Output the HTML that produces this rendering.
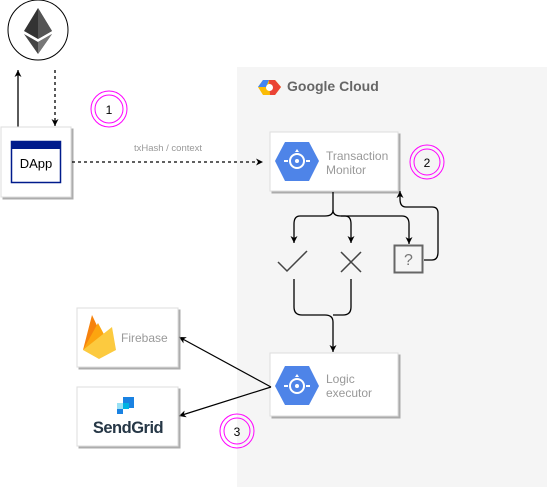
<!DOCTYPE html>
<html><head><style>body{margin:0;background:#fff}svg{display:block;font-family:"Liberation Sans",sans-serif}</style></head>
<body>
<svg width="548" height="488" viewBox="0 0 548 488">
<defs>
<marker id="a" markerWidth="8" markerHeight="8" refX="7" refY="4" orient="auto" markerUnits="userSpaceOnUse"><path d="M0,0.5 L7,4 L0,7.5 L2,4 Z" fill="#000"/></marker>
<filter id="s" x="-10%" y="-10%" width="130%" height="130%"><feDropShadow dx="2" dy="2" stdDeviation="0.3" flood-color="#999" flood-opacity="0.8"/></filter>
</defs>
<rect x="237" y="67" width="310" height="420" fill="#f5f5f5"/>
<!-- ethereum -->
<circle cx="38" cy="30" r="30" fill="#fff" stroke="#000"/>
<polygon points="38,8 24,31 38,39 52,31" fill="#333"/>
<polygon points="38,8 38,39 52,31" fill="#555"/>
<polygon points="24,34 38,54 52,34 38,42" fill="#444"/>
<polygon points="38,42 38,54 52,34" fill="#777"/>
<line x1="18" y1="127" x2="18" y2="70" stroke="#000" stroke-width="1.3" marker-end="url(#a)"/>
<line x1="55" y1="70" x2="55" y2="126" stroke="#000" stroke-width="1.3" stroke-dasharray="3,3" marker-end="url(#a)"/>
<!-- dapp -->
<rect x="1" y="127" width="70" height="70" fill="#fff" stroke="#ddd" filter="url(#s)"/>
<rect x="11.5" y="141.5" width="49" height="41" fill="#fff" stroke="#001b8c" stroke-width="1.5"/>
<rect x="11" y="141" width="50" height="8" fill="#001b8c"/>
<text x="36" y="168" font-size="13" text-anchor="middle">DApp</text>
<g fill="none" stroke="#f0f"><circle cx="109" cy="109" r="18"/><circle cx="109" cy="109" r="14"/></g>
<text x="109" y="114" font-size="12" text-anchor="middle">1</text>
<line x1="72" y1="162" x2="263" y2="162" stroke="#000" stroke-width="1.2" stroke-dasharray="3,3" marker-end="url(#a)"/>
<text x="168" y="151" font-size="9.5" fill="#999" text-anchor="middle">txHash / context</text>
<!-- google cloud -->
<polygon points="263,80 275,80 281,87 275,95 263,95 258,87" fill="#fbbc05"/>
<polygon points="269,80 275,80 281,87 275,95 270,95" fill="#ea4335"/>
<polygon points="263,80 269,80 266,87 258,87" fill="#4285f4"/>
<circle cx="269.5" cy="87.5" r="3.5" fill="#fff"/>
<text x="287" y="91" font-size="14" font-weight="bold" fill="#666">Google Cloud</text>
<!-- transaction monitor -->
<rect x="270" y="132" width="128" height="59" fill="#fff" stroke="#ddd" filter="url(#s)"/>
<polygon points="285,142 309,142 319,161 309,181 285,181 275,161" fill="#4e84e8"/>
<circle cx="297" cy="161" r="7" fill="none" stroke="#fff" stroke-width="2"/><circle cx="297" cy="161" r="2" fill="#fff"/>
<rect x="284" y="160" width="4" height="2" fill="#fff"/><rect x="306" y="160" width="4" height="2" fill="#fff"/><polygon points="297,149 295,152 299,152" fill="#fff"/>
<text font-size="12" fill="#999"><tspan x="326" y="160">Transaction</tspan><tspan x="326" y="174">Monitor</tspan></text>
<g fill="none" stroke="#f0f"><circle cx="427" cy="162" r="17"/><circle cx="427" cy="162" r="13"/></g>
<text x="427" y="167" font-size="12" text-anchor="middle">2</text>
<g fill="none" stroke="#000" stroke-width="1.3">
<path d="M333,192 V210 Q333,216 325,216 H300 Q294,216 294,224 V243" marker-end="url(#a)"/>
<path d="M333,210 Q333,216 341,216 H345 Q351,216 351,224 V243" marker-end="url(#a)"/>
<path d="M341,216 H402 Q409,216 409,224 V244" marker-end="url(#a)"/>
<path d="M424,260 H432 Q438,260 438,252 V213 Q438,207 432,207 H406 Q400,207 400,199 V191" marker-end="url(#a)"/>
<path d="M294,279 V307 Q294,315 302,315 H325 Q333,315 333,322 V352" marker-end="url(#a)"/>
<path d="M351,279 V307 Q351,315 343,315 H333"/>
</g>
<path d="M278,262 L287,271 L307,251" fill="none" stroke="#444" stroke-width="1.5"/>
<path d="M341,252 L361,272 M361,252 L341,272" stroke="#444" stroke-width="1.5"/>
<rect x="394.5" y="245.5" width="28" height="27" fill="none" stroke="#666" stroke-width="2"/>
<text x="408.5" y="265" font-size="16" fill="#777" text-anchor="middle">?</text>
<!-- logic executor -->
<rect x="270" y="353" width="128" height="63" fill="#fff" stroke="#ddd" filter="url(#s)"/>
<polygon points="285,366 309,366 319,386 309,405 285,405 275,386" fill="#4e84e8"/>
<circle cx="297" cy="386" r="7" fill="none" stroke="#fff" stroke-width="2"/><circle cx="297" cy="386" r="2" fill="#fff"/>
<rect x="284" y="385" width="4" height="2" fill="#fff"/><rect x="306" y="385" width="4" height="2" fill="#fff"/><polygon points="297,374 295,377 299,377" fill="#fff"/>
<text font-size="12" fill="#999"><tspan x="326" y="383">Logic</tspan><tspan x="326" y="397">executor</tspan></text>
<g fill="none" stroke="#f0f"><circle cx="237" cy="431" r="17"/><circle cx="237" cy="431" r="13"/></g>
<text x="237" y="436" font-size="12" text-anchor="middle">3</text>
<line x1="271" y1="387" x2="179" y2="337" stroke="#000" stroke-width="1.2" marker-end="url(#a)"/>
<line x1="271" y1="387" x2="179" y2="416" stroke="#000" stroke-width="1.2" marker-end="url(#a)"/>
<!-- firebase -->
<rect x="77" y="308" width="101" height="59" fill="#fff" stroke="#ddd" filter="url(#s)"/>
<polygon points="83,350 92,315 100,332" fill="#f6820d"/>
<polygon points="83,350 98,323 107,340" fill="#fca50f"/>
<polygon points="83,350 112,327 116,350 99,359" fill="#fcca3f"/>
<text x="121" y="342" font-size="12" fill="#999">Firebase</text>
<!-- sendgrid -->
<rect x="77" y="387" width="101" height="59" fill="#fff" stroke="#ddd" filter="url(#s)"/>
<rect x="123" y="397" width="11" height="6" fill="#1a82e2"/><rect x="123" y="403" width="6" height="6" fill="#00b2e3"/><rect x="117" y="403" width="6" height="6" fill="#99e1f4"/><rect x="117" y="409" width="6" height="5" fill="#1a82e2"/><rect x="129" y="397" width="5" height="11" fill="#1a82e2"/>
<text x="128" y="433" font-size="16.5" font-weight="bold" fill="#263746" text-anchor="middle" letter-spacing="-0.5">SendGrid</text>
</svg>
</body></html>
